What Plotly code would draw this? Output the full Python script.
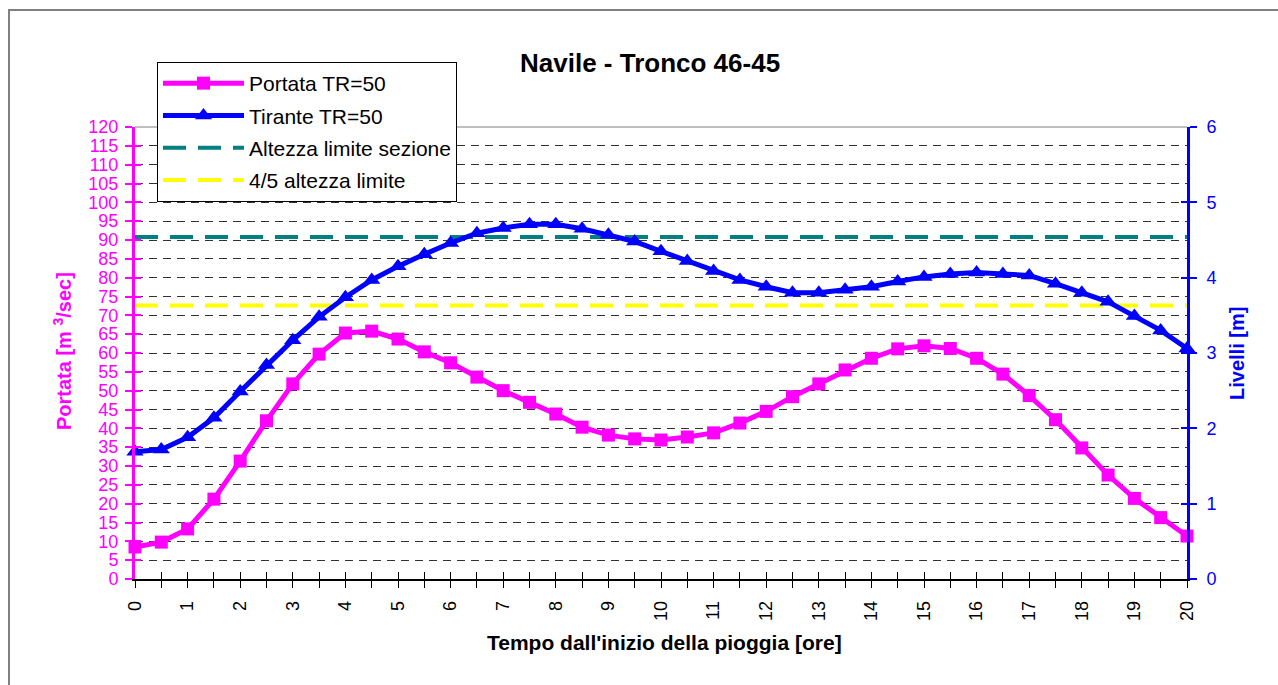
import plotly.graph_objects as go

# ---- data ----
ore = [0, 0.5, 1, 1.5, 2, 2.5, 3, 3.5, 4, 4.5, 5, 5.5, 6, 6.5, 7, 7.5, 8, 8.5, 9, 9.5,
       10, 10.5, 11, 11.5, 12, 12.5, 13, 13.5, 14, 14.5, 15, 15.5, 16, 16.5, 17, 17.5,
       18, 18.5, 19, 19.5, 20]
portata = [8.5, 9.8, 13.3, 21.2, 31.3, 42.0, 51.8, 59.7, 65.3, 65.8, 63.7, 60.3, 57.4,
           53.6, 50.0, 46.9, 43.8, 40.3, 38.2, 37.2, 36.9, 37.7, 38.8, 41.4, 44.5, 48.4,
           51.8, 55.5, 58.6, 61.1, 61.9, 61.2, 58.6, 54.4, 48.7, 42.3, 34.8, 27.6, 21.4,
           16.3, 11.4]
tirante = [1.69, 1.72, 1.88, 2.14, 2.49, 2.84, 3.17, 3.48, 3.74, 3.97, 4.15, 4.31, 4.46,
           4.59, 4.66, 4.71, 4.71, 4.65, 4.57, 4.48, 4.35, 4.22, 4.09, 3.97, 3.88, 3.80,
           3.80, 3.84, 3.88, 3.95, 4.01, 4.05, 4.07, 4.05, 4.03, 3.92, 3.80, 3.68, 3.49,
           3.30, 3.06]
lim_x = [0, 20]
altezza_limite = [4.54, 4.54]
quattro_quinti = [3.632, 3.632]

FONT = "Liberation Sans, Arial, sans-serif"
MAG = "#FF00FF"
BLU = "#0000FF"

W, H = 1278, 685
L, R, T, B = 135, 91, 127, 106
PW, PH = W - L - R, H - T - B


def px(x):
    return (x - L) / PW


def py(y):
    return 1 - (y - T) / PH


fig = go.Figure()

fig.add_trace(go.Scatter(
    x=lim_x, y=altezza_limite, yaxis="y2", mode="lines", name="Altezza limite sezione",
    line=dict(color="#008080", width=4, dash="23px,12px"), legendrank=3,
    legendgroup="c", cliponaxis=False))
fig.add_trace(go.Scatter(
    x=lim_x, y=quattro_quinti, yaxis="y2", mode="lines", name="4/5 altezza limite",
    line=dict(color="#FFFF00", width=4, dash="23px,12px"), legendrank=4,
    legendgroup="d", cliponaxis=False))
fig.add_trace(go.Scatter(
    x=ore, y=portata, mode="lines+markers", name="Portata TR=50",
    line=dict(color=MAG, width=5), marker=dict(symbol="square", size=13, color=MAG),
    legendrank=1, legendgroup="a", cliponaxis=False))
fig.add_trace(go.Scatter(
    x=ore, y=tirante, yaxis="y2", mode="lines+markers", name="Tirante TR=50",
    line=dict(color=BLU, width=5), marker=dict(symbol="triangle-up", size=15, color=BLU),
    legendrank=2, legendgroup="b", cliponaxis=False))

# dummy traces so the inside-tick overlay axes are drawn
fig.add_trace(go.Scatter(x=[None], y=[None], xaxis="x2", yaxis="y", showlegend=False,
                         hoverinfo="skip"))
fig.add_trace(go.Scatter(x=[None], y=[None], xaxis="x", yaxis="y3", showlegend=False,
                         hoverinfo="skip"))
fig.add_trace(go.Scatter(x=[None], y=[None], xaxis="x", yaxis="y4", showlegend=False,
                         hoverinfo="skip"))

tickfont = dict(family=FONT, size=18)

fig.update_layout(
    width=W, height=H,
    margin=dict(l=L, r=R, t=T, b=B),
    paper_bgcolor="white", plot_bgcolor="white",
    font=dict(family=FONT, color="black"),
    showlegend=True,
    legend=dict(x=px(157), y=py(62), xanchor="left", yanchor="top",
                bgcolor="white", bordercolor="black", borderwidth=1,
                font=dict(family=FONT, size=21, color="black"),
                itemwidth=81, traceorder="grouped", tracegroupgap=2),
    xaxis=dict(range=[0, 20], tickmode="linear", tick0=0, dtick=1,
               ticks="outside", ticklen=7, tickcolor="black", tickwidth=1,
               minor=dict(tickmode="linear", tick0=0, dtick=0.5, ticks="outside",
                          ticklen=7, tickcolor="black", tickwidth=1, showgrid=False),
               showline=True, linecolor="black", linewidth=1.5,
               tickangle=-90, tickfont=dict(tickfont, color="black"),
               ticklabelstandoff=6, showgrid=False, zeroline=False, fixedrange=True),
    xaxis2=dict(range=[0, 20], overlaying="x", anchor="y", side="bottom",
                tickmode="linear", tick0=0, dtick=0.5, ticks="inside", ticklen=7,
                tickcolor="black", tickwidth=1, showticklabels=False, showgrid=False,
                showline=False, zeroline=False),
    yaxis=dict(range=[0, 120], tickmode="linear", tick0=0, dtick=5,
               ticks="outside", ticklen=7, tickcolor=MAG, tickwidth=2,
               showline=True, linecolor=MAG, linewidth=3,
               tickfont=dict(tickfont, color=MAG), ticklabelstandoff=3,
               showgrid=True, gridcolor="#333333", griddash="8px,6px", gridwidth=1,
               zeroline=False),
    yaxis2=dict(range=[0, 6], overlaying="y", side="right", anchor="x",
                tickmode="linear", tick0=0, dtick=1,
                ticks="outside", ticklen=7, tickcolor=BLU, tickwidth=2,
                showline=True, linecolor=BLU, linewidth=3,
                tickfont=dict(tickfont, color=BLU), ticklabelstandoff=6,
                showgrid=False, zeroline=False),
    yaxis3=dict(range=[0, 120], overlaying="y", side="left", anchor="x",
                tickmode="linear", tick0=0, dtick=5, ticks="inside", ticklen=6,
                tickcolor=MAG, tickwidth=2, showticklabels=False, showgrid=False,
                showline=False, zeroline=False),
    yaxis4=dict(range=[0, 6], overlaying="y", side="right", anchor="x",
                tickmode="linear", tick0=0, dtick=1, ticks="inside", ticklen=6,
                tickcolor=BLU, tickwidth=2, showticklabels=False, showgrid=False,
                showline=False, zeroline=False),
    shapes=[
        dict(type="line", xref="paper", yref="paper", x0=0, x1=1, y0=1, y1=1,
             line=dict(color="#808080", width=1)),
        dict(type="rect", xref="paper", yref="paper",
             x0=px(9), x1=px(1300), y0=py(10), y1=py(720),
             line=dict(color="#808080", width=2), fillcolor="rgba(0,0,0,0)"),
    ],
    annotations=[
        dict(text="<b>Navile - Tronco 46-45</b>", xref="paper", yref="paper",
             x=px(650), y=py(63), xanchor="center", yanchor="middle", showarrow=False,
             font=dict(family=FONT, size=26, color="black")),
        dict(text="<b>Tempo dall'inizio della pioggia [ore]</b>", xref="paper", yref="paper",
             x=px(664), y=py(642), xanchor="center", yanchor="middle", showarrow=False,
             font=dict(family=FONT, size=21, color="black")),
        dict(text="<b>Portata [m <sup>3</sup>/sec]</b>", xref="paper", yref="paper",
             x=px(62), y=py(351), xanchor="center", yanchor="middle", showarrow=False,
             textangle=-90, font=dict(family=FONT, size=20, color=MAG)),
        dict(text="<b>Livelli [m]</b>", xref="paper", yref="paper",
             x=px(1237), y=py(354), xanchor="center", yanchor="middle", showarrow=False,
             textangle=-90, font=dict(family=FONT, size=20, color=BLU)),
    ],
)

fig.write_html("out.html")
